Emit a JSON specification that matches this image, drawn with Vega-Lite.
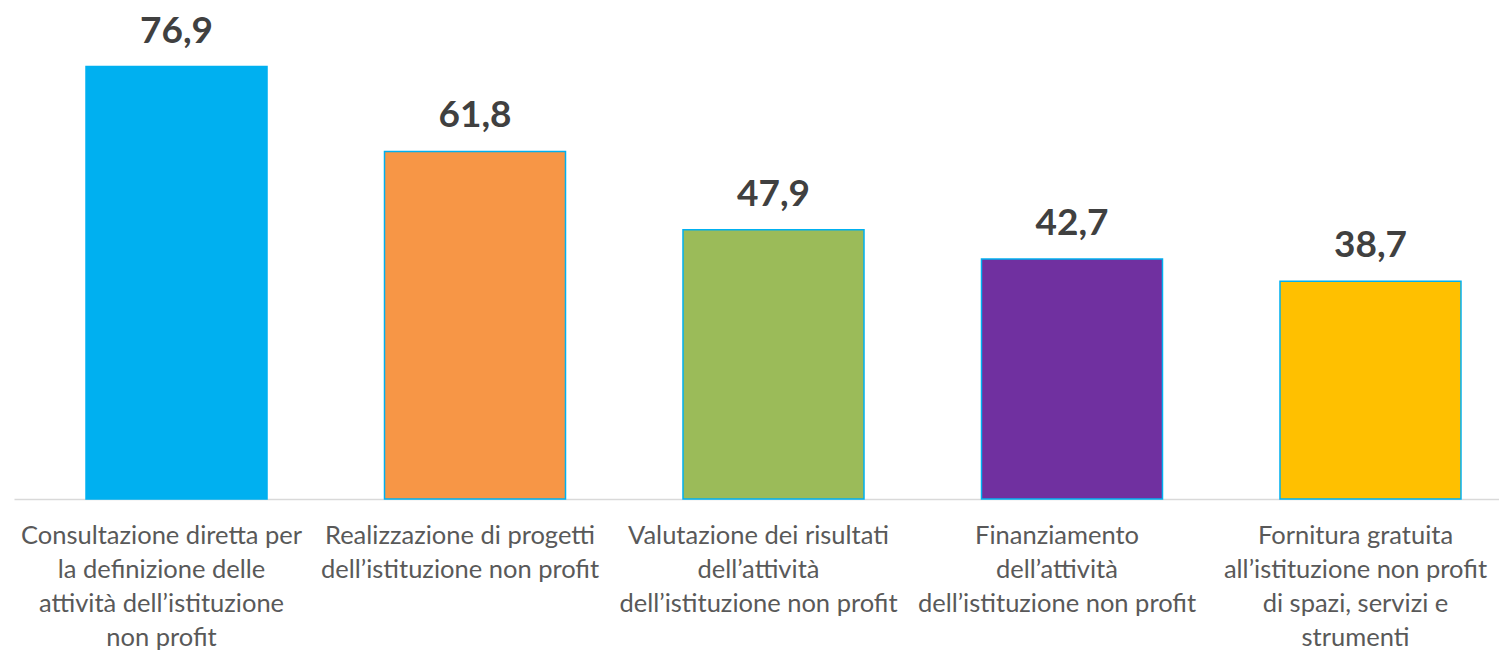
{
  "$schema": "https://vega.github.io/schema/vega-lite/v6.json",
  "autosize": "none",
  "width": 1485,
  "height": 478,
  "padding": {"left": 14, "top": 21, "right": 0, "bottom": 152},
  "background": "white",
  "config": {"view": {"stroke": null}},
  "data": {
    "values": [
      {"cat": "Consultazione diretta per|la definizione delle|attività dell’istituzione|non profit", "value": 76.9, "label": "76,9", "color": "#00B0F0"},
      {"cat": "Realizzazione di progetti|dell’istituzione non profit", "value": 61.8, "label": "61,8", "color": "#F79646"},
      {"cat": "Valutazione dei risultati|dell’attività|dell’istituzione non profit", "value": 47.9, "label": "47,9", "color": "#9BBB59"},
      {"cat": "Finanziamento|dell’attività|dell’istituzione non profit", "value": 42.7, "label": "42,7", "color": "#7030A0"},
      {"cat": "Fornitura gratuita|all’istituzione non profit|di spazi, servizi e|strumenti", "value": 38.7, "label": "38,7", "color": "#FFC000"}
    ]
  },
  "encoding": {
    "x": {
      "field": "cat",
      "type": "nominal",
      "sort": null,
      "scale": {"paddingInner": 0.3936, "paddingOuter": 0.1843, "align": 0.6545},
      "axis": {
        "title": null,
        "labelAngle": 0,
        "labelExpr": "split(datum.label, '|')",
        "labelFont": "Lato",
        "labelFontSize": 25.5,
        "labelLineHeight": 34,
        "labelColor": "#595959",
        "labelPadding": 24,
        "labelOffset": -15,
        "labelOverlap": false,
        "labelBound": false,
        "labelLimit": 0,
        "ticks": false,
        "domainColor": "#D9D9D9",
        "domainWidth": 1.5
      }
    },
    "y": {
      "field": "value",
      "type": "quantitative",
      "scale": {"domain": [0, 85], "nice": false},
      "axis": null
    }
  },
  "layer": [
    {
      "mark": {"type": "bar", "stroke": "#00B0F0", "strokeWidth": 1.5},
      "encoding": {
        "color": {"field": "color", "type": "nominal", "scale": null, "legend": null}
      }
    },
    {
      "mark": {"type": "text", "dy": -24, "font": "Lato", "fontSize": 37, "fontWeight": "bold", "color": "#404040", "baseline": "alphabetic"},
      "encoding": {"text": {"field": "label"}}
    }
  ]
}
